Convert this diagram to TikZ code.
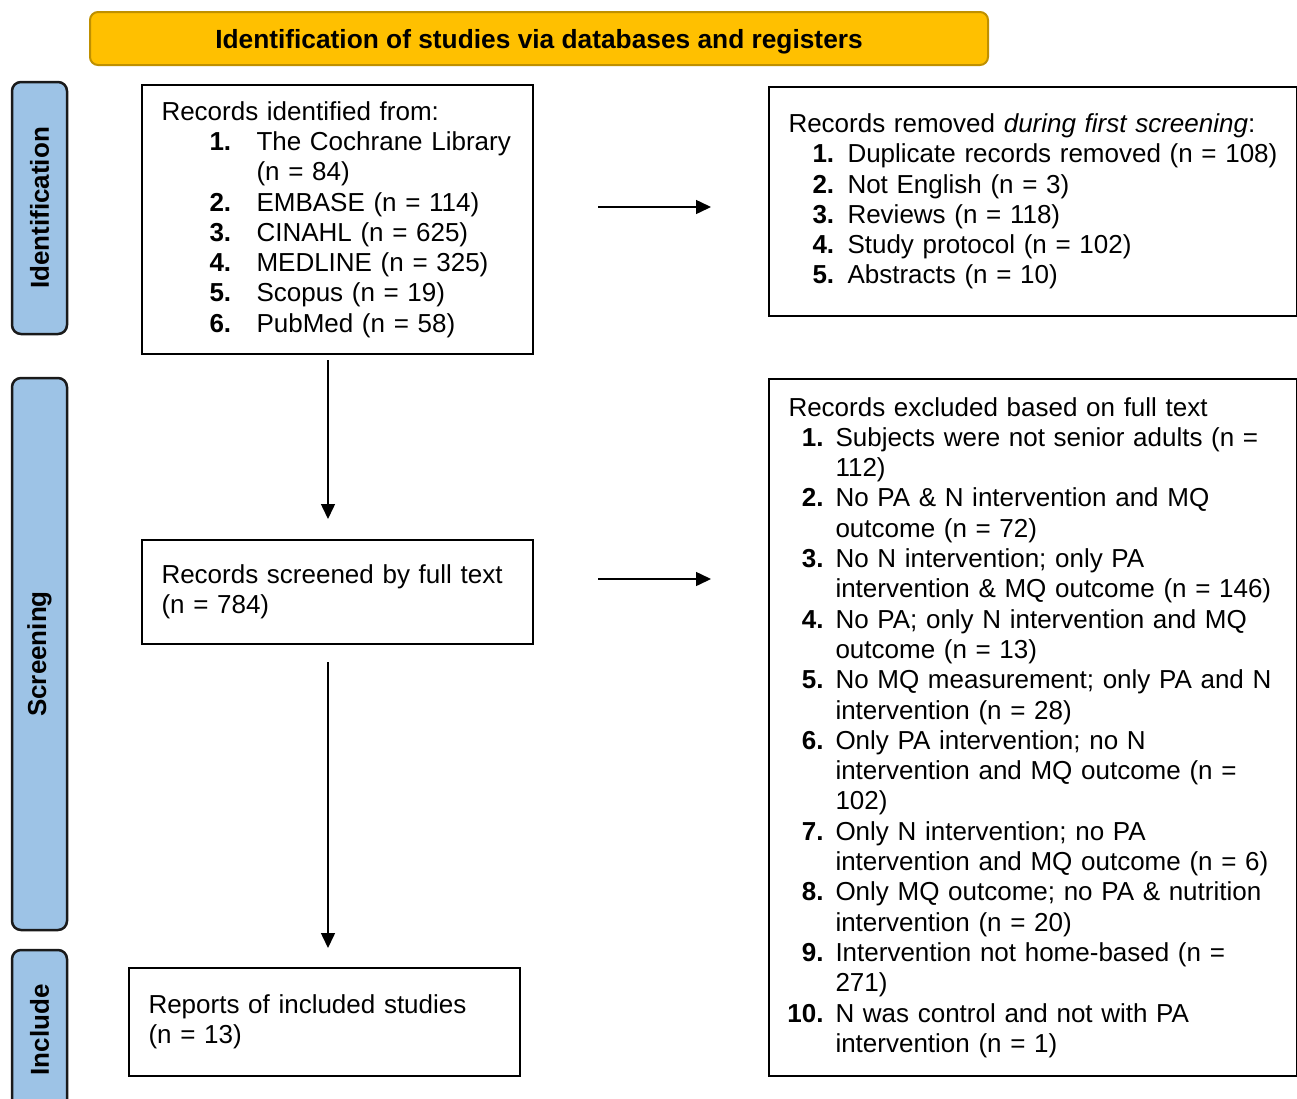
\documentclass[tikz,border=0pt]{standalone}
\usepackage{fontspec}
\setmainfont{Liberation Sans}
\usetikzlibrary{arrows.meta}

\definecolor{bannerfill}{HTML}{FFC000}
\definecolor{bannerline}{HTML}{BF9000}
\definecolor{phasefill}{HTML}{9DC3E6}
\definecolor{phaseline}{HTML}{1A1A1A}

\newcommand{\bodyfont}{\fontsize{26pt}{30.3pt}\selectfont}
\newcommand{\srcnum}[1]{\hspace*{48pt}\makebox[47pt][l]{\textbf{#1}}}
\newcommand{\srcgap}{\hspace*{95pt}}
\newcommand{\rmnum}[1]{\hspace*{24pt}\makebox[35pt][l]{\textbf{#1}}}
\newcommand{\exnum}[1]{\makebox[35pt][r]{\textbf{#1}}\hspace*{12pt}}
\newcommand{\exgap}{\hspace*{47pt}}

\begin{document}
\begin{tikzpicture}[x=1pt, y=-1pt,
  every node/.style = {font=\bodyfont},
  box/.style = {draw, line width=2pt, anchor=north west, align=left,
    inner xsep=19.5pt, inner ysep=0pt},
  banner/.style = {draw=bannerline, fill=bannerfill, line width=2pt,
    rounded corners=8pt, anchor=north west, minimum width=898pt,
    minimum height=53pt, text depth=0pt,
    font=\fontsize{26.3pt}{30pt}\selectfont\bfseries},
  phase/.style = {draw=phaseline, fill=phasefill, line width=2.5pt,
    rounded corners=9pt, rotate=90, minimum height=55pt,
    font=\bodyfont\bfseries},
  flow/.style = {line width=1.5pt, -{Triangle[length=15pt, width=14pt]}}]
  \clip (0,0) rectangle (1297,1098);

  \node[banner] (title) at (89,11) {Identification of studies via databases and registers};

  \node[phase, minimum width=252pt] (phid) at (39.5,208) {Identification};
  \node[phase, minimum width=552pt] (phscr) at (39.5,654) {Screening};
  \node[phase, minimum width=160pt] (phinc) at (39.5,1030) {Include};

  \node[box, minimum width=391pt, minimum height=269pt, text width=352pt]
    (ident) at (141,84) {Records identified from:\\
    \srcnum{1.}The Cochrane Library\\
    \srcgap(n = 84)\\
    \srcnum{2.}EMBASE (n = 114)\\
    \srcnum{3.}CINAHL (n = 625)\\
    \srcnum{4.}MEDLINE (n = 325)\\
    \srcnum{5.}Scopus (n = 19)\\
    \srcnum{6.}PubMed (n = 58)};

  \node[box, minimum width=528pt, minimum height=229pt, text width=489pt]
    (removed) at (768,86) {Records removed \textit{during first screening}:\\
    \rmnum{1.}Duplicate records removed (n = 108)\\
    \rmnum{2.}Not English (n = 3)\\
    \rmnum{3.}Reviews (n = 118)\\
    \rmnum{4.}Study protocol (n = 102)\\
    \rmnum{5.}Abstracts (n = 10)};

  \node[box, minimum width=391pt, minimum height=104pt, text width=352pt]
    (screened) at (141,539) {Records screened by full text\\(n = 784)};

  \node[box, minimum width=528pt, minimum height=697pt, text width=489pt]
    (excluded) at (768,378) {Records excluded based on full text\\
    \exnum{1.}Subjects were not senior adults (n =\\
    \exgap 112)\\
    \exnum{2.}No PA \& N intervention and MQ\\
    \exgap outcome (n = 72)\\
    \exnum{3.}No N intervention; only PA\\
    \exgap intervention \& MQ outcome (n = 146)\\
    \exnum{4.}No PA; only N intervention and MQ\\
    \exgap outcome (n = 13)\\
    \exnum{5.}No MQ measurement; only PA and N\\
    \exgap intervention (n = 28)\\
    \exnum{6.}Only PA intervention; no N\\
    \exgap intervention and MQ outcome (n =\\
    \exgap 102)\\
    \exnum{7.}Only N intervention; no PA\\
    \exgap intervention and MQ outcome (n = 6)\\
    \exnum{8.}Only MQ outcome; no PA \& nutrition\\
    \exgap intervention (n = 20)\\
    \exnum{9.}Intervention not home-based (n =\\
    \exgap 271)\\
    \exnum{10.}N was control and not with PA\\
    \exgap intervention (n = 1)};

  \node[box, minimum width=391pt, minimum height=108pt, text width=352pt]
    (included) at (128,967) {Reports of included studies\\(n = 13)};

  \coordinate (colA) at (328,0);
  \coordinate (rowA) at (0,207);
  \coordinate (rowB) at (0,579);
  \draw[flow, shorten <=64pt, shorten >=57pt] (ident.east |- rowA) -- (removed.west |- rowA);
  \draw[flow, shorten <=5pt, shorten >=20pt] (ident.south -| colA) -- (screened.north -| colA);
  \draw[flow, shorten <=64pt, shorten >=57pt] (screened.east |- rowB) -- (excluded.west |- rowB);
  \draw[flow, shorten <=17pt, shorten >=19pt] (screened.south -| colA) -- (included.north -| colA);
\end{tikzpicture}
\end{document}
